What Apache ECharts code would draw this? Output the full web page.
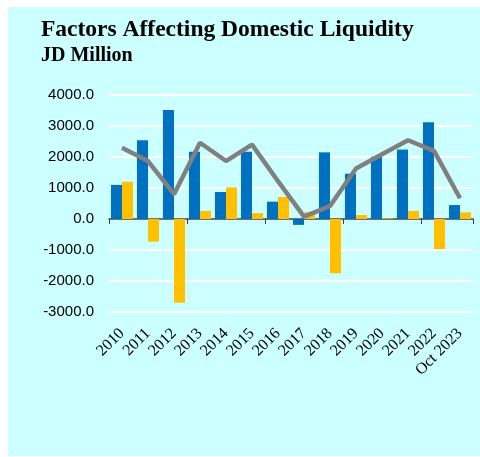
<!DOCTYPE html>
<html>
<head>
<meta charset="utf-8">
<script src="https://cdn.jsdelivr.net/npm/echarts@6/dist/echarts.min.js"></script>
<style>
  html, body { margin: 0; padding: 0; background: #fff; }
  #chart { width: 480px; height: 457px; }
</style>
</head>
<body>
<div id="chart"></div>
<script>
// categories and values (JD million)
var years = ["2010", "2011", "2012", "2013", "2014", "2015", "2016", "2017", "2018", "2019", "2020", "2021", "2022", "Oct 2023"];
var blueBars = [1100, 2540, 3520, 2170, 870, 2170, 560, -190, 2150, 1460, 2010, 2240, 3120, 450];
var yellowBars = [1200, -730, -2700, 260, 1020, 190, 710, 220, -1750, 130, 20, 260, -970, 215];
var greyLine = [2300, 1870, 800, 2460, 1870, 2400, 1220, 75, 420, 1630, 2090, 2540, 2200, 670];

var chart = echarts.init(document.getElementById("chart"));
var option = {
  animation: false,
  graphic: [
    {
      type: "rect",
      z: -10,
      shape: { x: 8, y: 7, width: 472, height: 449 },
      style: { fill: "#CCFFFF" }
    }
  ],
  title: [
    {
      text: "Factors Affecting Domestic Liquidity",
      left: 41,
      top: 18,
      padding: 0,
      textStyle: { fontFamily: "Liberation Serif", fontWeight: "bold", fontSize: 23.5, color: "#000" }
    },
    {
      text: "JD Million",
      left: 41,
      top: 46,
      padding: 0,
      textStyle: { fontFamily: "Liberation Serif", fontWeight: "bold", fontSize: 20, color: "#000" }
    }
  ],
  grid: { left: 109, right: 7, top: 95, bottom: 145 },
  xAxis: [
    {
      type: "category",
      data: years,
      axisLine: { onZero: true, lineStyle: { color: "#404040", width: 1.5 } },
      axisTick: { show: true, length: 5, lineStyle: { color: "#404040" } },
      axisLabel: { show: false }
    },
    {
      type: "category",
      data: years,
      position: "bottom",
      axisLine: { show: false, onZero: false },
      axisTick: { show: false },
      axisLabel: {
        rotate: 45,
        interval: 0,
        margin: 19,
        fontFamily: "Liberation Serif",
        fontSize: 16,
        color: "#000"
      }
    }
  ],
  yAxis: {
    type: "value",
    min: -3000,
    max: 4000,
    interval: 1000,
    axisLine: { show: false },
    axisTick: { show: false },
    splitLine: { lineStyle: { color: "#ffffff", width: 2 } },
    axisLabel: {
      margin: 15,
      fontFamily: "Liberation Sans",
      fontSize: 15,
      color: "#000",
      formatter: function (v) { return v.toFixed(1); }
    }
  },
  series: [
    {
      type: "bar",
      data: blueBars,
      barGap: "0%",
      barCategoryGap: "15%",
      itemStyle: { color: "#0070C0" }
    },
    {
      type: "bar",
      data: yellowBars,
      itemStyle: { color: "#FFC000" }
    },
    {
      type: "line",
      data: greyLine,
      symbol: "none",
      lineStyle: { color: "#808080", width: 4.5 },
      z: 5
    }
  ]
};
chart.setOption(option);
</script>
</body>
</html>
